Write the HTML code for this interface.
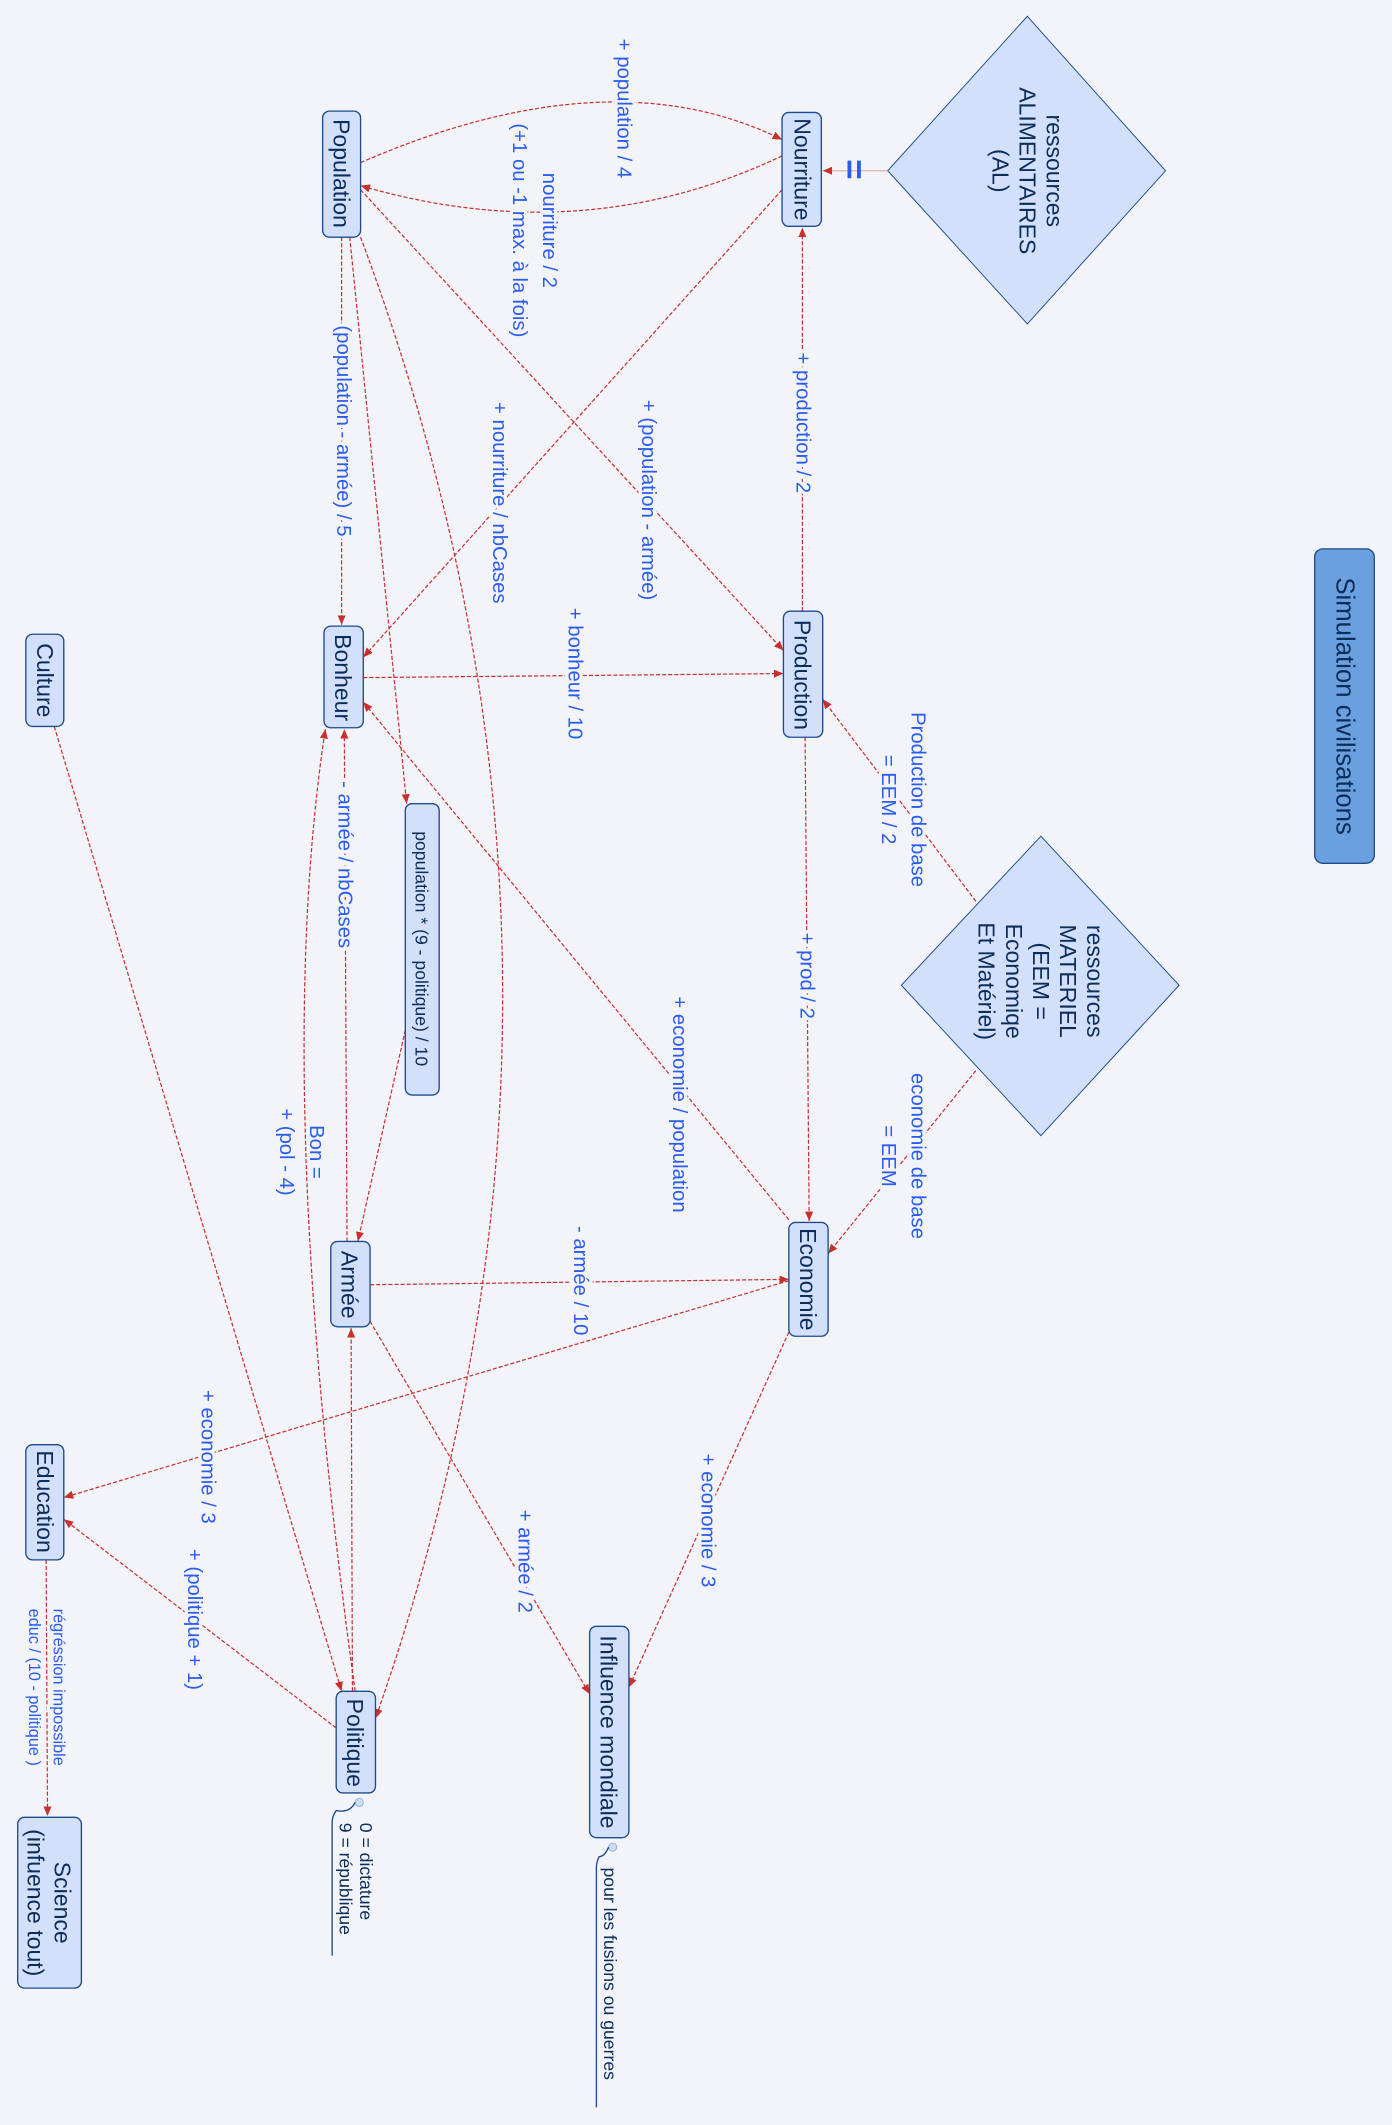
<!DOCTYPE html>
<html><head><meta charset="utf-8"><style>
html,body{margin:0;padding:0;background:#f3f4f9;}
svg{display:block}
.n{fill:#d3e0fc;stroke:#1d4c8c;stroke-width:1}
.nt{font-family:"Liberation Sans",sans-serif;font-size:17px;fill:#0c2c5a;text-anchor:middle;dominant-baseline:central}
.l{font-family:"Liberation Sans",sans-serif;font-size:15px;fill:#2a5cf2;text-anchor:middle;dominant-baseline:central;stroke:#f3f4f9;stroke-width:5;paint-order:stroke;stroke-linejoin:round}
.e{fill:none;stroke:#c8302e;stroke-width:0.9;stroke-dasharray:3 1.5;marker-end:url(#a)}
</style></head><body>
<svg width="1392" height="2125" viewBox="0 0 1027 1568" xmlns="http://www.w3.org/2000/svg">
<defs><marker id="a" markerWidth="8" markerHeight="8" refX="7" refY="4" orient="auto" markerUnits="userSpaceOnUse"><path d="M0,1 L7,4 L0,7 z" fill="#c8302e"/></marker></defs>
<rect width="1027" height="1568" fill="#f3f4f9"/>

<!-- edges -->
<path class="e" d="M266,120 Q450,40 577,103"/>
<path class="e" d="M577,115 Q430,185 266,137"/>
<line x1="655" y1="126" x2="607" y2="126" stroke="#e7b0b0" stroke-width="1" marker-end="url(#a)"/>
<path class="e" d="M592,451 L592,168"/>
<path class="e" d="M266,140 L578,480"/>
<path class="e" d="M577,140 L268,485"/>
<path class="e" d="M252,175 L252,461"/>
<path class="e" d="M258,175 L300,593"/>
<path class="e" d="M266,175 Q470,720 277,1268"/>
<path class="e" d="M268,500 L578,497"/>
<path class="e" d="M720,665 L607,516"/>
<path class="e" d="M594,544 L597,901"/>
<path class="e" d="M720,790 L611,925"/>
<path class="e" d="M582,900 L268,518"/>
<path class="e" d="M256,916 L254,538"/>
<path class="e" d="M262,1248 Q200,800 240,538"/>
<path class="e" d="M299,760 L264,916"/>
<path class="e" d="M273,948 L582,944"/>
<path class="e" d="M582,945 L47,1105"/>
<path class="e" d="M248,1275 L47,1121"/>
<path class="e" d="M40,536 L252,1248"/>
<path class="e" d="M273,975 L435,1250"/>
<path class="e" d="M582,983 L464,1245"/>
<path class="e" d="M260,1248 L259,980"/>
<path class="e" d="M34,1151 L35,1340"/>

<!-- nodes -->
<rect class="n" x="238" y="82" width="28" height="93" rx="5"/>
<g transform="translate(252,128) rotate(90)"><text class="nt">Population</text></g>
<rect class="n" x="577" y="83" width="29" height="84" rx="5"/>
<g transform="translate(592,125) rotate(90)"><text class="nt">Nourriture</text></g>
<polygon class="n" points="758,12 860,126 758,239 655,126" style="stroke-width:0.7"/>
<g transform="translate(758,126) rotate(90)"><text class="nt"><tspan x="0" dy="-20">ressources</tspan><tspan x="0" dy="20">ALIMENTAIRES</tspan><tspan x="0" dy="20">(AL)</tspan></text></g>
<g transform="translate(630,125) rotate(90)"><text class="nt" style="font-size:26px;font-weight:bold;fill:#2a5cf2">=</text></g>

<rect class="n" x="239" y="462" width="29" height="75" rx="5"/>
<g transform="translate(253,500) rotate(90)"><text class="nt">Bonheur</text></g>
<rect class="n" x="578" y="451" width="29" height="93" rx="5"/>
<g transform="translate(592,498) rotate(90)"><text class="nt">Production</text></g>
<rect class="n" x="19" y="468" width="28" height="68" rx="5"/>
<g transform="translate(33,502) rotate(90)"><text class="nt">Culture</text></g>
<rect x="970" y="405" width="44" height="232" rx="6" fill="#6aa0df" stroke="#1d4c8c"/>
<g transform="translate(992,521) rotate(90)"><text class="nt" style="font-size:19px">Simulation civilisations</text></g>

<rect class="n" x="299" y="593" width="25" height="215" rx="5"/>
<g transform="translate(311,700) rotate(90)"><text class="nt" style="font-size:13px">population * (9 - politique) / 10</text></g>

<polygon class="n" points="768,617 870,727 768,838 665,727" style="stroke-width:0.7"/>
<g transform="translate(768,724) rotate(90)"><text class="nt"><tspan x="0" dy="-40">ressources</tspan><tspan x="0" dy="20">MATERIEL</tspan><tspan x="0" dy="20">(EEM =</tspan><tspan x="0" dy="20">Economiqe</tspan><tspan x="0" dy="20">Et Matériel)</tspan></text></g>

<rect class="n" x="244" y="916" width="29" height="63" rx="5"/>
<g transform="translate(258,948) rotate(90)"><text class="nt">Armée</text></g>
<rect class="n" x="582" y="902" width="29" height="84" rx="5"/>
<g transform="translate(596,944) rotate(90)"><text class="nt">Economie</text></g>
<rect class="n" x="19" y="1066" width="28" height="85" rx="5"/>
<g transform="translate(33,1108) rotate(90)"><text class="nt">Education</text></g>
<rect class="n" x="248" y="1248" width="29" height="75" rx="5"/>
<g transform="translate(262,1286) rotate(90)"><text class="nt">Politique</text></g>
<rect class="n" x="435" y="1200" width="29" height="156" rx="5"/>
<g transform="translate(449,1278) rotate(90)"><text class="nt">Influence mondiale</text></g>
<rect class="n" x="13" y="1341" width="47" height="126" rx="5"/>
<g transform="translate(36,1404) rotate(90)"><text class="nt"><tspan x="0" dy="-10">Science</tspan><tspan x="0" dy="20">(infuence tout)</tspan></text></g>

<!-- notes -->
<circle cx="265" cy="1330" r="3" fill="#cfdcf5" stroke="#8aa8d8" stroke-width="0.6"/>
<path d="M262,1330 Q258,1338 248,1336 Q245,1340 245,1345 L245,1443" fill="none" stroke="#1d4c8c" stroke-width="1"/>
<g transform="translate(263,1390) rotate(90)"><text style="font-family:'Liberation Sans',sans-serif;font-size:13px;fill:#0c2c5a;dominant-baseline:central"><tspan x="-45" dy="-7">0 = dictature</tspan><tspan x="-45" dy="15">9 = république</tspan></text></g>
<circle cx="452" cy="1363" r="3" fill="#cfdcf5" stroke="#8aa8d8" stroke-width="0.6"/>
<path d="M449,1363 Q446,1370 442,1370 Q440,1374 440,1378 L440,1555" fill="none" stroke="#1d4c8c" stroke-width="1"/>
<g transform="translate(450,1378) rotate(90)"><text style="font-family:'Liberation Sans',sans-serif;font-size:13px;fill:#0c2c5a;dominant-baseline:central" x="0">pour les fusions ou guerres</text></g>

<!-- labels -->
<g transform="translate(460,80) rotate(90)"><text class="l">+ population / 4</text></g>
<g transform="translate(394,170) rotate(90)"><text class="l"><tspan x="0" dy="-11">nourriture / 2</tspan><tspan x="0" dy="22">(+1 ou -1 max. à la fois)</tspan></text></g>
<g transform="translate(592,312) rotate(90)"><text class="l">+ production / 2</text></g>
<g transform="translate(478,369) rotate(90)"><text class="l">+ (population - armée)</text></g>
<g transform="translate(368,371) rotate(90)"><text class="l">+ nourriture / nbCases</text></g>
<g transform="translate(253,318) rotate(90)"><text class="l">(population - armée) / 5</text></g>
<g transform="translate(424,497) rotate(90)"><text class="l">+ bonheur / 10</text></g>
<g transform="translate(666,590) rotate(90)"><text class="l"><tspan x="0" dy="-11">Production de base</tspan><tspan x="0" dy="22">= EEM / 2</tspan></text></g>
<g transform="translate(595,720) rotate(90)"><text class="l">+ prod / 2</text></g>
<g transform="translate(666,853) rotate(90)"><text class="l"><tspan x="0" dy="-11">economie de base</tspan><tspan x="0" dy="22">= EEM</tspan></text></g>
<g transform="translate(501,815) rotate(90)"><text class="l">+ economie / population</text></g>
<g transform="translate(254,638) rotate(90)"><text class="l">- armée / nbCases</text></g>
<g transform="translate(222,850) rotate(90)"><text class="l"><tspan x="0" dy="-11">Bon =</tspan><tspan x="0" dy="22">+ (pol - 4)</tspan></text></g>
<g transform="translate(428,945) rotate(90)"><text class="l">- armée / 10</text></g>
<g transform="translate(153,1075) rotate(90)"><text class="l">+ economie / 3</text></g>
<g transform="translate(143,1195) rotate(90)"><text class="l">+ (politique + 1)</text></g>
<g transform="translate(387,1152) rotate(90)"><text class="l">+ armée / 2</text></g>
<g transform="translate(522,1122) rotate(90)"><text class="l">+ economie / 3</text></g>
<g transform="translate(34,1245) rotate(90)"><text class="l" style="font-size:12px"><tspan x="0" dy="-9">régréssion impossible</tspan><tspan x="0" dy="18">educ / (10 - politique )</tspan></text></g>
</svg>
</body></html>
